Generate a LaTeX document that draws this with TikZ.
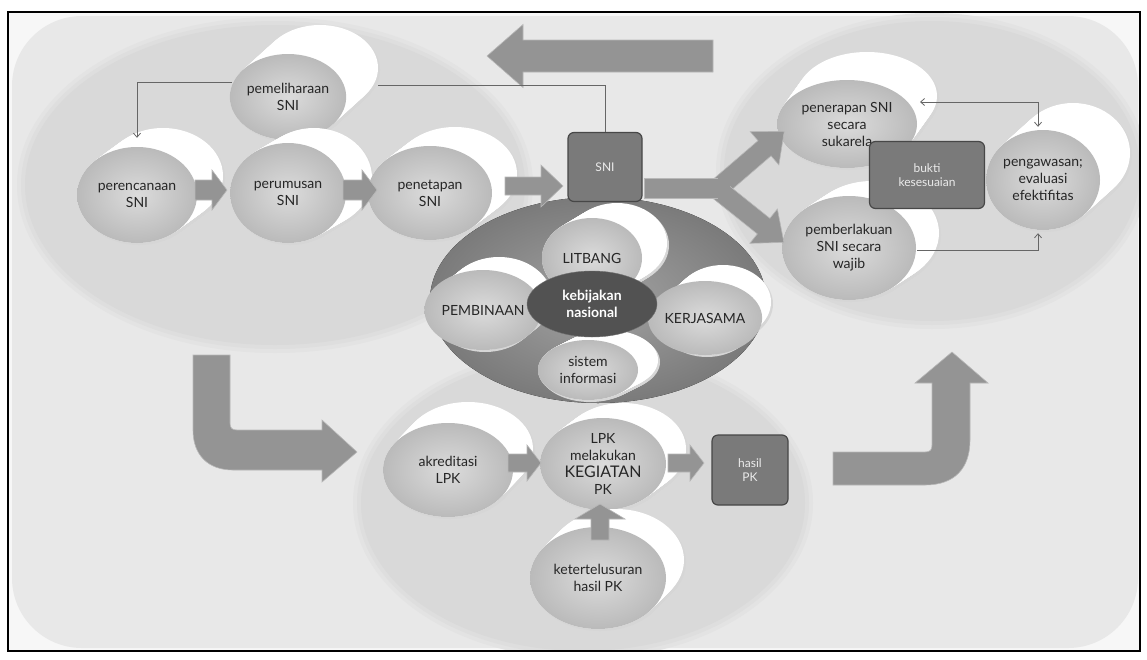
\documentclass[tikz,border=0pt]{standalone}
\usepackage{fontspec}
\setmainfont{Lato}
\usetikzlibrary{shapes.geometric,arrows.meta,calc}
\newcommand\cylfont{\fontsize{14}{17}\selectfont}
\newcommand\cylinder[8]{%
  \foreach \t in {0,...,18}{%
    \fill[black!16] ({#2+#6*\t/18+2},{#3+#7*\t/18+2}) ellipse [x radius=#4, y radius=#5];}%
  \foreach \t in {18,17,...,0}{%
    \fill[white] ({#2+#6*\t/18},{#3+#7*\t/18}) ellipse [x radius=#4, y radius=#5];}%
  \node[cylfront, minimum width={2*#4}, minimum height={2*#5}] (#1) at (#2,#3) {#8};}
\newcommand\barrow[7]{%
  \begin{scope}[shift={(#1,#2)}, rotate=#3]
    \fill[arrowfill] (0,{-#5/2}) -- ({#4-#7},{-#5/2}) -- ({#4-#7},{-#6/2}) -- (#4,0)
      -- ({#4-#7},{#6/2}) -- ({#4-#7},{#5/2}) -- (0,{#5/2}) -- cycle;
  \end{scope}}
\begin{document}
\begin{tikzpicture}[x=1pt,y=-1pt,
  cylfront/.style={ellipse, inner sep=0pt, inner color=black!14, outer color=black!27,
    align=center, font=\cylfont, text=black!85},
  box/.style={rounded corners=6pt, draw=black!72, line width=1.2pt, fill=black!52,
    text=black!8, align=center, font=\fontsize{12}{14}\selectfont, inner sep=0pt},
  arrowfill/.style={fill=black!42, draw=black!28, line width=0.6pt},
  conn/.style={draw=black!60, line width=0.8pt},
  tipc/.style={-{Straight Barb[length=4pt,width=7pt]}}]
\useasboundingbox (0,0) rectangle (1147,659);
\fill[white] (0,0) rectangle (1147,659);
\fill[black!3] (8,12) rectangle (1140,651);
\begin{scope}
\clip (8,12) rectangle (1140,651);
\fill[black!9, rounded corners=70pt] (12,16) rectangle (1138,648);
% regions
\foreach \e in {8,4,0}{
  \fill[black!\fpeval{15-\e/2}] (275,185) ellipse [x radius={250+\e}, y radius={160+\e}];
  \fill[black!\fpeval{15-\e/2}] (932,171) ellipse [x radius={208+\e}, y radius={150+\e}];
  \fill[black!\fpeval{15-\e/2}] (583,503) ellipse [x radius={222+\e}, y radius={148+\e}];}
\end{scope}
% central dark ellipse
\fill[inner color=black!36, outer color=black!52] (598,300) ellipse [x radius=168, y radius=103];
% top-left cylinders
\cylinder{pem}{288}{97}{58}{43}{32}{-29}{pemeliharaan\\SNI}
\cylinder{per}{137}{195}{60}{48}{26}{-19}{perencanaan\\SNI}
\cylinder{perum}{288}{193}{58}{50}{26}{-15}{perumusan\\SNI}
\cylinder{penet}{430}{193}{62}{47}{25}{-19}{penetapan\\SNI}
% central cylinders
\cylinder{lit}{592}{258}{50}{40}{25}{-15}{LITBANG}
\cylinder{pemb}{483}{310}{52}{40}{16}{-13}{PEMBINAAN}
\cylinder{kerja}{705}{318}{48}{37}{18}{-16}{KERJASAMA}
\cylinder{sis}{588}{370}{50}{30}{20}{-10}{sistem\\informasi}
\node[ellipse, minimum width=130, minimum height=66, inner sep=0pt, fill=black!68,
  draw=black!55, text=white, align=center, font=\fontsize{14}{17}\selectfont\bfseries]
  (keb) at (592,304) {kebijakan\\nasional};
% top-right cylinders
\cylinder{pener}{847}{124}{70}{44}{20}{-28}{penerapan SNI\\secara\\sukarela}
\cylinder{pembr}{849}{248}{67}{52}{23}{-15}{pemberlakuan\\SNI secara\\wajib}
\cylinder{pgw}{1043}{180}{57}{50}{30}{-27}{pengawasan;\\evaluasi\\efektifitas}
% bottom cylinders
\cylinder{akr}{448}{470}{65}{47}{20}{-21}{akreditasi\\LPK}
\cylinder{lpk}{603}{464}{63}{46}{20}{-15}{LPK\\melakukan\\{\fontsize{16}{18}\selectfont KEGIATAN}\\PK}
\cylinder{ket}{598}{578}{68}{51}{18}{-18}{ketertelusuran\\hasil PK}
% boxes
\node[box, minimum width=74, minimum height=69] (sni) at (605,167) {SNI};
\node[box, minimum width=115, minimum height=67] (bukti) at (927,175) {bukti\\kesesuaian};
\node[box, minimum width=76, minimum height=70] (hasil) at (750,470) {hasil\\PK};
% block arrows
\barrow{713}{56}{180}{226}{32}{63}{36}
\barrow{195}{190}{0}{32}{20}{40}{15}
\barrow{343}{190}{0}{34}{20}{40}{15}
\barrow{505}{186}{0}{58}{18}{42}{22}
\barrow{716}{190}{40.7}{90}{20}{44}{26}
\barrow{716}{188}{-38.7}{87}{20}{44}{26}
\fill[fill=black!42] (644,178) rectangle (730,198);
\draw[draw=black!28, line width=0.6pt] (644,178) -- (718,178) (644,198) -- (718,198) (644,178) -- (644,198);
\barrow{508}{463}{0}{33}{18}{36}{14}
\barrow{668}{463}{0}{36}{18}{36}{14}
\barrow{600}{540}{90}{36}{18}{50}{15}
% bent arrows
\fill[arrowfill] (193,355) -- (193,430) .. controls (193,455) and (208,470) .. (233,470)
  -- (322,470) -- (322,482) -- (357,452) -- (322,420) -- (322,430) -- (237,430)
  .. controls (232,430) and (230,428) .. (230,423) -- (230,355) -- cycle;
\fill[arrowfill] (833,452) -- (925,452) .. controls (930,452) and (932,450) .. (932,445)
  -- (932,383) -- (915,383) -- (952,352) -- (988,383) -- (970,383) -- (970,440)
  .. controls (970,468) and (955,485) .. (925,485) -- (833,485) -- cycle;
% thin connectors
\coordinate (pemL) at (232,82);
\coordinate (pemR) at (378,85);
\draw[conn, tipc, shorten >=9pt] (pemL) -| (per.north);
\draw[conn] (sni.north) |- (pemR);
\coordinate (penerR) at (920,102);
\coordinate (pembrR) at (917,250);
\draw[conn, {Straight Barb[length=4pt,width=7pt]}-{Straight Barb[length=4pt,width=7pt]}]
  (penerR) -| ($(pgw.north)+(-5,-3)$);
\draw[conn, tipc] (pembrR) -| ($(pgw.south)+(-5,3)$);
% frame
\draw[black, line width=1.2pt] (8,12) rectangle (1140,651);
\end{tikzpicture}
\end{document}
